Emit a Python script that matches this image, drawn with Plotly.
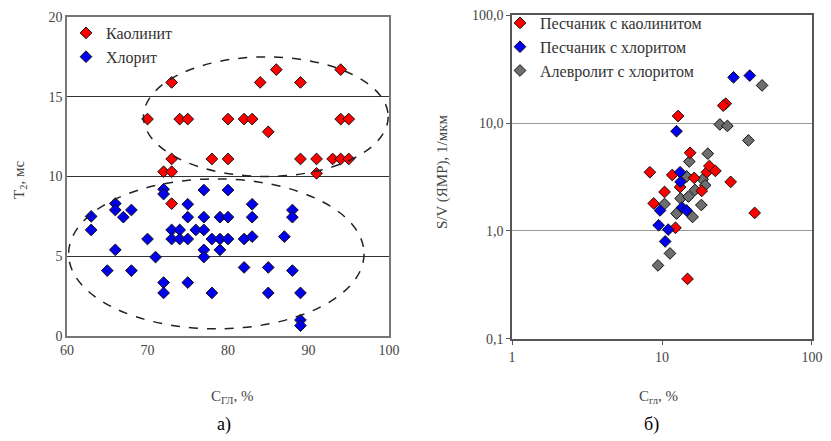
import plotly.graph_objects as go

# ---------- Panel a) ----------
kaol_x = [73, 84, 86, 89, 94, 70, 74, 75, 80, 82, 83, 94, 95, 85,
          73, 78, 80, 89, 91, 93, 94, 95, 72, 73, 91, 73]
kaol_y = [15.9, 15.9, 16.7, 15.9, 16.7, 13.6, 13.6, 13.6, 13.6, 13.6, 13.6, 13.6, 13.6, 12.8,
          11.1, 11.1, 11.1, 11.1, 11.1, 11.1, 11.1, 11.1, 10.3, 10.3, 10.2, 8.3]

chl_x = [63, 63, 65, 66, 66, 66, 67, 68, 68, 70, 71, 72, 72, 72, 72, 73, 73, 74, 74,
         75, 75, 75, 75, 76, 77, 77, 77, 77, 77, 78, 78, 79, 79, 79, 80, 80, 80,
         82, 82, 83, 83, 83, 85, 85, 87, 88, 88, 88, 89, 89, 89]
chl_y = [7.5, 6.65, 4.1, 8.3, 7.9, 5.4, 7.45, 7.9, 4.1, 6.08, 4.95, 9.2, 8.9, 3.35, 2.7,
         6.65, 6.08, 6.65, 6.08, 8.26, 7.45, 6.08, 3.35, 6.65, 9.15, 7.45, 6.65, 5.4, 4.95,
         6.08, 2.7, 7.45, 6.08, 5.4, 9.15, 7.45, 6.08, 6.08, 4.3, 8.26, 7.45, 6.23,
         4.3, 2.7, 6.23, 7.9, 7.45, 4.1, 2.7, 1.0, 0.65]

# ---------- Panel б) ----------
sk_x = [12.8, 26.6, 25.6, 15.4, 8.3, 11.7, 16.4, 19.9, 20.7, 22.7, 28.7, 10.4, 18.4,
        13.2, 8.8, 12.3, 14.8, 41.5]
sk_y = [11.6, 15.1, 14.5, 5.3, 3.5, 3.3, 3.1, 3.5, 4.0, 3.6, 2.85, 2.3, 2.35,
        2.55, 1.8, 1.07, 0.36, 1.47]

sc_x = [12.5, 13.2, 13.3, 9.7, 9.5, 11.0, 10.5, 13.6, 14.6, 30.0, 38.5]
sc_y = [8.4, 3.5, 2.85, 1.55, 1.13, 1.03, 0.8, 1.65, 1.55, 26.5, 27.5]

ac_x = [24.3, 27.3, 46.5, 37.7, 20.2, 15.2, 14.6, 18.7, 10.4, 12.5, 16.0, 18.3,
        13.3, 15.0, 16.6, 19.4, 11.3, 9.4]
ac_y = [9.7, 9.4, 22.3, 6.9, 5.2, 4.4, 3.2, 3.0, 1.78, 1.45, 1.35, 1.74,
        2.0, 2.08, 2.4, 2.65, 0.62, 0.48]

FONT = "Liberation Serif, Times New Roman, DejaVu Serif, serif"
RED = "#ff0000"
BLUE = "#0000ee"
GRAY = "#6e6e6e"


def mk(color):
    return dict(symbol="diamond", size=9, color=color, line=dict(color="#111", width=1))


fig = go.Figure()

fig.add_trace(go.Scatter(x=kaol_x, y=kaol_y, mode="markers", name="Каолинит",
                         marker=mk(RED), xaxis="x", yaxis="y", legend="legend"))
fig.add_trace(go.Scatter(x=chl_x, y=chl_y, mode="markers", name="Хлорит",
                         marker=mk(BLUE), xaxis="x", yaxis="y", legend="legend"))

fig.add_trace(go.Scatter(x=ac_x, y=ac_y, mode="markers", name="Алевролит с хлоритом",
                         marker=mk(GRAY), xaxis="x2", yaxis="y2", legend="legend2",
                         legendrank=3))
fig.add_trace(go.Scatter(x=sk_x, y=sk_y, mode="markers", name="Песчаник с каолинитом",
                         marker=mk(RED), xaxis="x2", yaxis="y2", legend="legend2",
                         legendrank=1))
fig.add_trace(go.Scatter(x=sc_x, y=sc_y, mode="markers", name="Песчаник с хлоритом",
                         marker=mk(BLUE), xaxis="x2", yaxis="y2", legend="legend2",
                         legendrank=2))

W, H = 831, 441
OFF = 8  # page body margin offset


def px(x):
    return (x - OFF) / W


def py(y):
    return 1 - (y - OFF) / H


L1, R1, T1, B1 = 67, 389, 17, 336
L2, R2, T2, B2 = 512, 812, 15, 339

tickfont = dict(family=FONT, size=14, color="#444")
legfont = dict(family=FONT, size=16, color="#333")

fig.update_layout(
    width=W, height=H,
    margin=dict(l=0, r=0, t=0, b=0, autoexpand=False),
    paper_bgcolor="white", plot_bgcolor="white",
    font=dict(family=FONT, size=14, color="#333"),
    xaxis=dict(domain=[px(L1), px(R1)], range=[60, 100], tickvals=[60, 70, 80, 90, 100],
               showgrid=False, zeroline=False, showline=True, linecolor="#777",
               linewidth=1.5, mirror=True, ticks="", tickfont=tickfont, anchor="y",
               ticklabeloverflow="allow"),
    yaxis=dict(domain=[py(B1), py(T1)], range=[0, 20], tickvals=[0, 5, 10, 15, 20],
               showgrid=True, gridcolor="#333", gridwidth=1, zeroline=False,
               showline=True, linecolor="#777", linewidth=1.5, mirror=True, ticks="",
               tickfont=tickfont, anchor="x", ticklabeloverflow="allow"),
    xaxis2=dict(domain=[px(L2), px(R2)], type="log", range=[-0.0005, 2.0005],
                tickvals=[1, 10, 100],
                ticktext=["1", "10", "100"], showgrid=False, zeroline=False, showline=True,
                linecolor="#555", linewidth=1.5, mirror=True, ticks="outside", ticklen=4,
                tickcolor="#555", tickfont=tickfont, anchor="y2",
                ticklabeloverflow="allow"),
    yaxis2=dict(domain=[py(B2), py(T2)], type="log", range=[-1.0005, 2.0005],
                tickvals=[0.1, 1, 10, 100], ticktext=["0,1", "1,0", "10,0", "100,0"],
                showgrid=True, gridcolor="#999", gridwidth=1, zeroline=False,
                showline=True, linecolor="#555", linewidth=1.5, mirror=True,
                ticks="outside", ticklen=4, tickcolor="#555", tickfont=tickfont,
                anchor="x2", ticklabeloverflow="allow"),
    legend=dict(x=px(66), y=py(16), xanchor="left", yanchor="top",
                bgcolor="rgba(0,0,0,0)", font=legfont,
                itemwidth=30, tracegroupgap=0),
    legend2=dict(x=px(500), y=py(6), xanchor="left", yanchor="top",
                 bgcolor="rgba(0,0,0,0)", font=legfont,
                 itemwidth=30, tracegroupgap=0),
    showlegend=True,
)

# dashed ellipses (panel a)
fig.add_shape(type="circle", xref="x", yref="y", x0=69.5, x1=99.9, y0=10.0, y1=17.5,
              line=dict(color="#222", width=1.5, dash="dash"))
fig.add_shape(type="circle", xref="x", yref="y", x0=60.2, x1=96.9, y0=0.45, y1=9.85,
              line=dict(color="#222", width=1.5, dash="dash"))

ann = [
    dict(text="T<sub>2</sub>, мс", x=px(20), y=py(180), textangle=-90),
    dict(text="C<sub>ГЛ</sub>, %", x=px(232), y=py(397)),
    dict(text="а)", x=px(224), y=py(424), size=18, color="#000"),
    dict(text="S/V (ЯМР), 1/мкм", x=px(442), y=py(172), textangle=-90),
    dict(text="C<sub>гл</sub>, %", x=px(658), y=py(397)),
    dict(text="б)", x=px(651), y=py(424), size=18, color="#000"),
]
for a in ann:
    fig.add_annotation(text=a["text"], x=a["x"], y=a["y"], xref="paper", yref="paper",
                       showarrow=False, textangle=a.get("textangle", 0),
                       xanchor="center", yanchor="middle",
                       font=dict(family=FONT, size=a.get("size", 15),
                                 color=a.get("color", "#444")))

fig.write_html("out.html")
